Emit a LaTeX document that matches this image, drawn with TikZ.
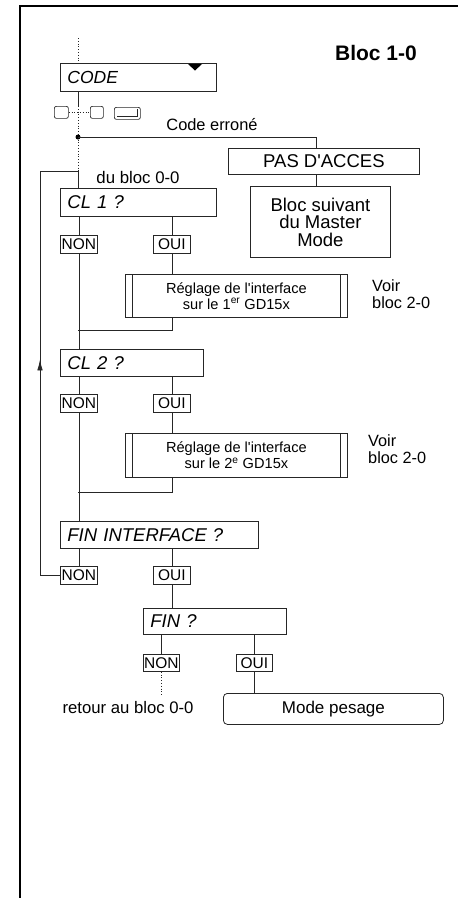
\documentclass[tikz,border=0pt]{standalone}
\usepackage{fontspec}
\setmainfont{Liberation Sans}
\usetikzlibrary{arrows.meta,decorations.markings,calc}
\newcommand\fsz[1]{\fontsize{#1}{#1}\selectfont}
\newcommand\fszl[2]{\fontsize{#1}{#2}\selectfont}

\begin{document}
\begin{tikzpicture}[x=1pt,y=-1pt,
  ln/.style={line width=0.8pt, draw=black!85},
  box/.style={draw=black!85, line width=0.8pt, anchor=north west, inner sep=0pt},
  qbox/.style={box, inner xsep=7pt, inner ysep=0pt, align=left, font=\fsz{18.5}\itshape},
  cbox/.style={box, align=center},
  yn/.style={box, minimum width=37pt, minimum height=18pt, font=\fsz{15.5}},
  key/.style={draw=black!85, line width=0.7pt, rounded corners=2pt, anchor=north west, inner sep=0pt},
  txt/.style={inner sep=0pt},
]
\useasboundingbox (0,0) rectangle (458,898);

% page frame
\draw[line width=1.8pt] (458,6) -- (20,6) -- (20,898);

% title
\node[txt, font=\bfseries\fsz{21}] (title) at (376,53) {Bloc 1-0};

% code entry
\coordinate (top) at (78,38);
\node[qbox, text width=142pt, minimum height=28pt, font=\fsz{17.5}\itshape] (code) at (60,63) {CODE};
\fill[black] (188,64) -- (202,64) -- (195,70.5) -- cycle;
\draw[ln, dotted] (top) -- (top |- code.north);

% keys
\node[key, minimum width=14pt, minimum height=12pt] (k1) at (54,106) {};
\node[key, minimum width=13pt, minimum height=12pt] (k2) at (90,106) {};
\node[key, minimum width=26pt, minimum height=12pt] (k3) at (114,107) {};
\draw[line width=0.6pt, black!85] ($(k3.south west)+(3,-3)$) -- ($(k3.south east)+(-3,-3)$) -- ($(k3.north east)+(-3,2)$);
\draw[ln, dotted] (k1.east) -- (k2.west);

% main line below CODE
\coordinate (kb) at (78,106);
\coordinate (j1) at (78,137);
\coordinate (loopin) at (78,171);
\draw[ln] (code.south -| top) -- (kb);
\draw[ln, dotted] (kb) -- (j1) -- (loopin);
\fill[black] (j1) circle (2.5);

% wrong code branch
\node[txt, font=\fsz{16.4}] (err) at (212,125) {Code erroné};
\node[cbox, minimum width=191pt, minimum height=26pt, font=\fsz{18.5}] (pas) at (228,148) {PAS D\textquotesingle ACCES};
\node[cbox, minimum width=140pt, minimum height=71pt, font=\fszl{18.5}{17.5}] (suiv) at (250,186) {Bloc suivant\\du Master\\Mode};
\coordinate (pasx) at (316,137);
\draw[ln] (j1) -- (pasx) -- (pasx |- pas.north);
\draw[ln] (pasx |- pas.south) -- (pasx |- suiv.north);

\node[txt, font=\fsz{16.8}] (dubloc) at (138,177) {du bloc 0-0};

% CL 1
\node[qbox, text width=142pt, minimum height=28pt] (cl1) at (60,188) {CL 1 ?};
\draw[ln] (loopin) -- (loopin |- cl1.north);
\node[yn] (non1) at (60,235) {NON};
\node[yn] (oui1) at (153,235) {OUI};
\draw[ln] (non1.north |- cl1.south) -- (non1.north);
\draw[ln] (oui1.north |- cl1.south) -- (oui1.north);
\node[cbox, minimum width=222pt, minimum height=43pt, font=\fszl{14.6}{16}] (reg1) at (125,274) {Réglage de l\textquotesingle interface\\sur le 1\textsuperscript{er} GD15x};
\draw[ln] ($(reg1.north west)+(7,0)$) -- ($(reg1.south west)+(7,0)$);
\draw[ln] ($(reg1.north east)+(-7,0)$) -- ($(reg1.south east)+(-7,0)$);
\draw[ln] (oui1.south) -- (oui1.south |- reg1.north);
\coordinate (m1) at (78,330);
\draw[ln] (oui1.south |- reg1.south) -- (oui1.south |- m1) -- (m1);
\node[txt, anchor=north west, align=left, font=\fszl{16.3}{17}] (voir1) at (372,279) {Voir\\bloc 2-0};

% CL 2
\node[qbox, text width=129pt, minimum height=27pt] (cl2) at (60,349) {CL 2 ?};
\draw[ln] (non1.south) -- (non1.south |- cl2.north);
\node[yn] (non2) at (60,394) {NON};
\node[yn] (oui2) at (153,394) {OUI};
\draw[ln] (non2.north |- cl2.south) -- (non2.north);
\draw[ln] (oui2.north |- cl2.south) -- (oui2.north);
\node[cbox, minimum width=222pt, minimum height=44pt, font=\fszl{14.6}{16}] (reg2) at (125,433) {Réglage de l\textquotesingle interface\\sur le 2\textsuperscript{e} GD15x};
\draw[ln] ($(reg2.north west)+(7,0)$) -- ($(reg2.south west)+(7,0)$);
\draw[ln] ($(reg2.north east)+(-7,0)$) -- ($(reg2.south east)+(-7,0)$);
\draw[ln] (oui2.south) -- (oui2.south |- reg2.north);
\coordinate (m2) at (78,492);
\draw[ln] (oui2.south |- reg2.south) -- (oui2.south |- m2) -- (m2);
\node[txt, anchor=north west, align=left, font=\fszl{16.3}{17}] (voir2) at (368,434) {Voir\\bloc 2-0};

% FIN INTERFACE
\node[qbox, text width=184pt, minimum height=27pt] (finint) at (60,521) {FIN INTERFACE ?};
\draw[ln] (non2.south) -- (non2.south |- finint.north);
\node[yn] (non3) at (60,566) {NON};
\node[yn] (oui3) at (153,566) {OUI};
\draw[ln] (non3.north |- finint.south) -- (non3.north);
\draw[ln] (oui3.north |- finint.south) -- (oui3.north);

% loop back to CL 1
\coordinate (lc) at (40,171);
\draw[ln, postaction={decorate}, decoration={markings, mark=at position 236pt with {\arrow{Latex[length=11pt,width=5.5pt]}}}]
  (non3.west) -| (lc) -- (loopin);

% FIN
\node[qbox, text width=129pt, minimum height=26pt] (fin) at (143,608) {FIN ?};
\draw[ln] (oui3.south) -- (oui3.south |- fin.north);
\node[yn, minimum width=36pt, minimum height=17pt] (non4) at (143,654) {NON};
\node[yn, minimum width=36pt, minimum height=17pt] (oui4) at (236,654) {OUI};
\draw[ln] (non4.north |- fin.south) -- (non4.north);
\draw[ln] (oui4.north |- fin.south) -- (oui4.north);
\coordinate (ret) at (161,695);
\draw[ln, dotted] (non4.south) -- (non4.south |- ret);
\node[txt, font=\fsz{16.7}] (retour) at (128,708) {retour au bloc 0-0};
\node[cbox, rounded corners=4pt, minimum width=220pt, minimum height=31pt, font=\fsz{17}] (mode) at (223,693) {Mode pesage};
\draw[ln] (oui4.south) -- (oui4.south |- mode.north);
\end{tikzpicture}
\end{document}
